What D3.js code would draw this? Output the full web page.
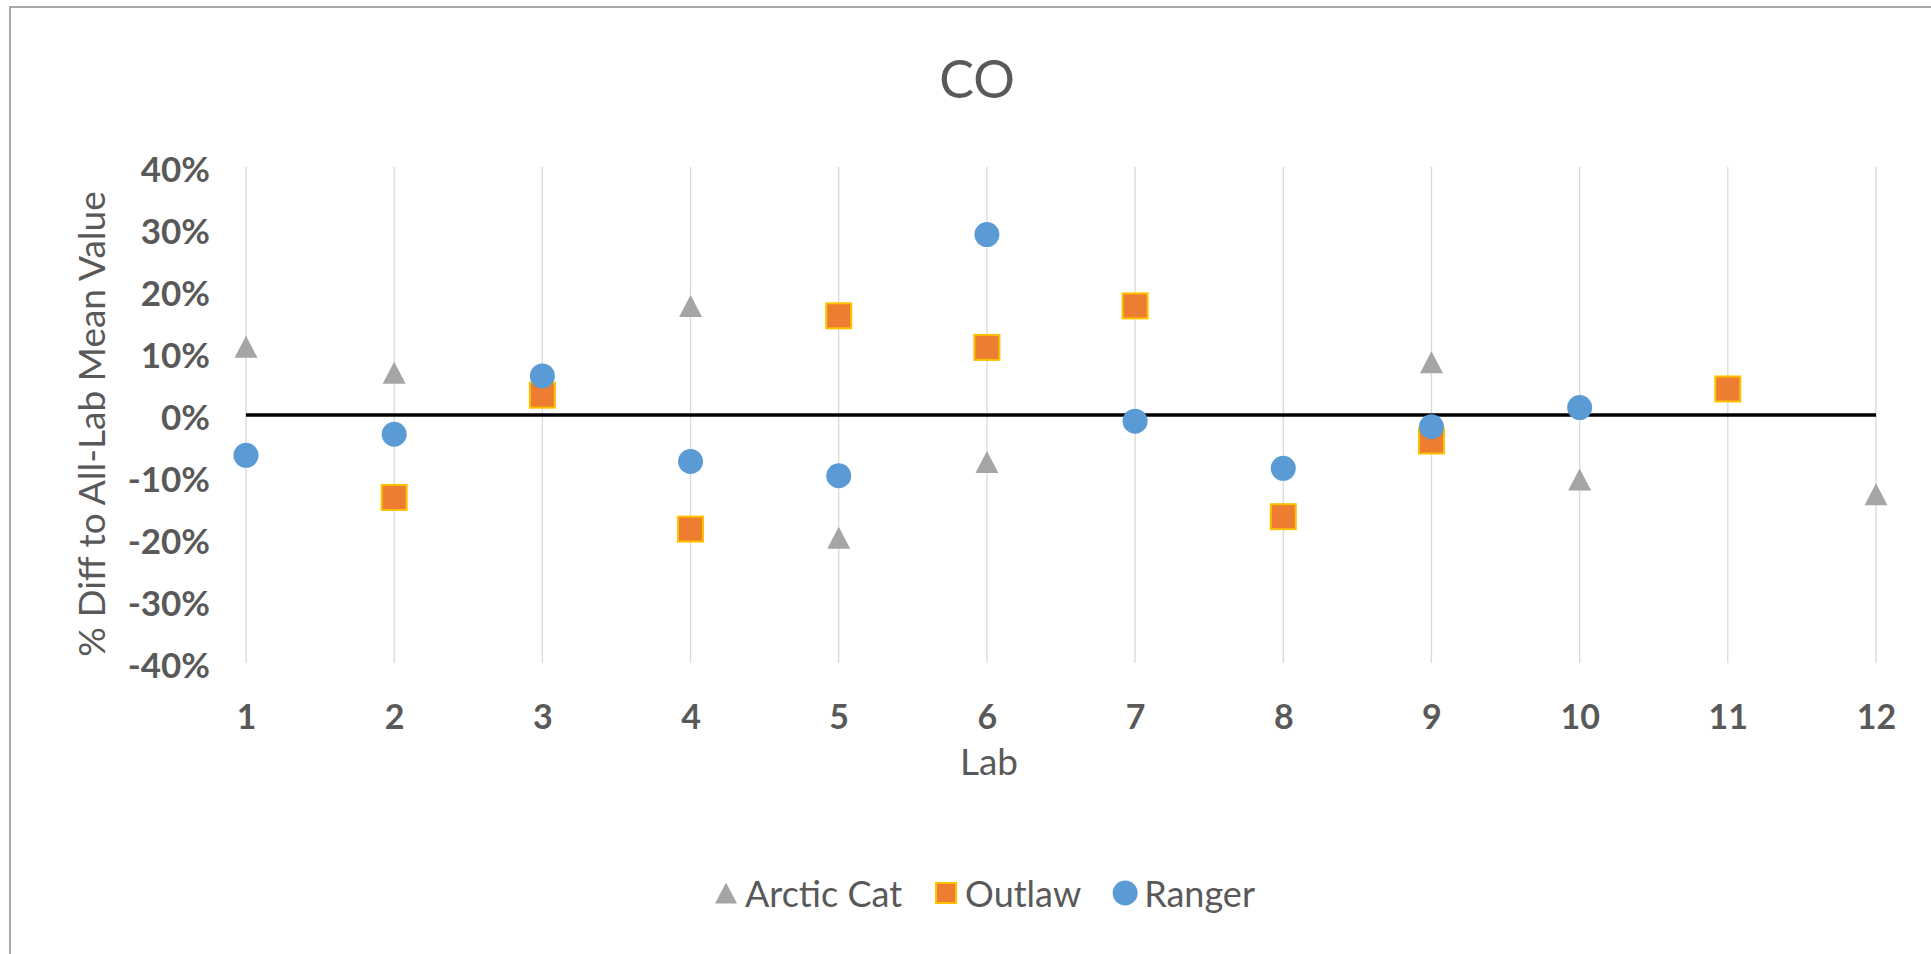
<!DOCTYPE html>
<html>
<head>
<meta charset="utf-8">
<script src="https://cdn.jsdelivr.net/npm/d3@7"></script>
<style>
  html, body { margin: 0; padding: 0; background: #ffffff; }
  svg { display: block; }
  text { font-family: Lato, "Liberation Sans", sans-serif; fill: #595959; }
</style>
</head>
<body>
<svg id="chart" width="1931" height="954"></svg>
<script>
// ---------- data ----------
const labs = [1, 2, 3, 4, 5, 6, 7, 8, 9, 10, 11, 12];
const arcticCat = [0.110, 0.068, null, 0.176, -0.198, -0.076, null, null, 0.085, -0.104, null, -0.128];
const outlaw    = [null, -0.133, 0.032, -0.184, 0.160, 0.109, 0.176, -0.164, -0.042, null, 0.042, null];
const ranger    = [-0.065, -0.031, 0.063, -0.075, -0.098, 0.291, -0.010, -0.086, -0.019, 0.012, null, null];
const yTicks = [-0.4, -0.3, -0.2, -0.1, 0, 0.1, 0.2, 0.3, 0.4];
const seriesNames = ["Arctic Cat", "Outlaw", "Ranger"];
const chartTitle = "CO";
const xTitle = "Lab";
const yTitle = "% Diff to All-Lab Mean Value";

// ---------- layout ----------
const svg = d3.select("#chart");
const W = 1931, H = 954;
const plot = { left: 246, right: 1876, top: 167, bottom: 663 };

const x = d3.scaleLinear().domain([1, 12]).range([plot.left, plot.right]);
const y = d3.scaleLinear().domain([-0.4, 0.4]).range([plot.bottom, plot.top]);

// chart border
svg.append("rect")
  .attr("x", 10).attr("y", 7).attr("width", W + 20).attr("height", H + 20)
  .attr("fill", "#fff").attr("stroke", "#8c8c8c").attr("stroke-width", 1.5);

// title
svg.append("text")
  .attr("x", 977).attr("y", 78)
  .attr("text-anchor", "middle").attr("dominant-baseline", "central")
  .style("font-size", "52px")
  .text(chartTitle);

// vertical gridlines
svg.append("g").selectAll("line").data(labs).join("line")
  .attr("x1", d => x(d)).attr("x2", d => x(d))
  .attr("y1", plot.top).attr("y2", plot.bottom)
  .attr("stroke", "#d9d9d9").attr("stroke-width", 1.3);

// x axis tick labels
const xAxis = svg.append("g")
  .attr("transform", `translate(0,${plot.bottom})`)
  .call(d3.axisBottom(x).tickValues(labs).tickFormat(d3.format("d")).tickSize(0).tickPadding(0));
xAxis.select(".domain").remove();
xAxis.selectAll("text")
  .attr("y", 52).attr("dy", null)
  .attr("dominant-baseline", "central")
  .style("font-size", "34px").style("font-weight", "bold")
  .style("font-family", "Lato, 'Liberation Sans', sans-serif")
  .attr("fill", "#595959");

// y axis tick labels
const yAxis = svg.append("g")
  .attr("transform", `translate(${plot.left},0)`)
  .call(d3.axisLeft(y).tickValues(yTicks)
    .tickFormat(d => Math.round(d * 100) + "%").tickSize(0).tickPadding(36));
yAxis.select(".domain").remove();
yAxis.selectAll("text")
  .attr("dy", null).attr("dominant-baseline", "central")
  .style("font-size", "35px").style("font-weight", "bold")
  .style("font-family", "Lato, 'Liberation Sans', sans-serif")
  .attr("fill", "#595959");

// zero line
svg.append("line")
  .attr("x1", x(1)).attr("x2", x(12))
  .attr("y1", y(0)).attr("y2", y(0))
  .attr("stroke", "#000").attr("stroke-width", 3.5);

// axis titles
svg.append("text")
  .attr("x", 989).attr("y", 760)
  .attr("text-anchor", "middle").attr("dominant-baseline", "central")
  .style("font-size", "37px")
  .text(xTitle);
svg.append("text")
  .attr("transform", "translate(90,424) rotate(-90)")
  .attr("text-anchor", "middle").attr("dominant-baseline", "central")
  .style("font-size", "37px")
  .text(yTitle);

// marker shapes
const triangle = (cx, cy, w, h) => {
  const p = d3.path();
  p.moveTo(cx, cy - h / 2);
  p.lineTo(cx + w / 2, cy + h / 2);
  p.lineTo(cx - w / 2, cy + h / 2);
  p.closePath();
  return p.toString();
};
const styles = {
  tri: { fill: "#a5a5a5" },
  sq:  { fill: "#ed7d31", stroke: "#ffc000" },
  circ:{ fill: "#5b9bd5" }
};

const pts = (arr) => labs.map((l, i) => ({ lab: l, v: arr[i] })).filter(d => d.v !== null);

// Arctic Cat
svg.append("g").selectAll("path").data(pts(arcticCat)).join("path")
  .attr("d", d => triangle(x(d.lab), y(d.v), 23, 22))
  .attr("fill", styles.tri.fill);

// Outlaw
svg.append("g").selectAll("rect").data(pts(outlaw)).join("rect")
  .attr("x", d => x(d.lab) - 12.5).attr("y", d => y(d.v) - 12.5)
  .attr("width", 25).attr("height", 25)
  .attr("fill", styles.sq.fill).attr("stroke", styles.sq.stroke).attr("stroke-width", 2);

// Ranger
svg.append("g").selectAll("circle").data(pts(ranger)).join("circle")
  .attr("cx", d => x(d.lab)).attr("cy", d => y(d.v)).attr("r", 12.5)
  .attr("fill", styles.circ.fill);

// legend
const legY = 893;
const leg = svg.append("g");
const legendFont = 36;
const gap = 44;
let cursor = 0;
seriesNames.forEach((name, i) => {
  const g = leg.append("g");
  if (i === 0) g.append("path").attr("d", triangle(0, 0, 22, 21)).attr("fill", styles.tri.fill);
  if (i === 1) g.append("rect").attr("x", -10).attr("y", -10).attr("width", 20).attr("height", 20)
    .attr("fill", styles.sq.fill).attr("stroke", styles.sq.stroke).attr("stroke-width", 2);
  if (i === 2) g.append("circle").attr("r", 12.5).attr("fill", styles.circ.fill);
  const t = g.append("text").attr("x", 19).attr("y", 0)
    .attr("dominant-baseline", "central")
    .style("font-size", legendFont + "px").text(name);
  const tw = t.node().getComputedTextLength();
  g.attr("transform", `translate(${cursor},${legY})`);
  cursor += 19 + tw + gap;
});
const totalW = cursor - gap + 11;
leg.attr("transform", `translate(${985 - totalW / 2 + 11},0)`);
</script>
</body>
</html>
